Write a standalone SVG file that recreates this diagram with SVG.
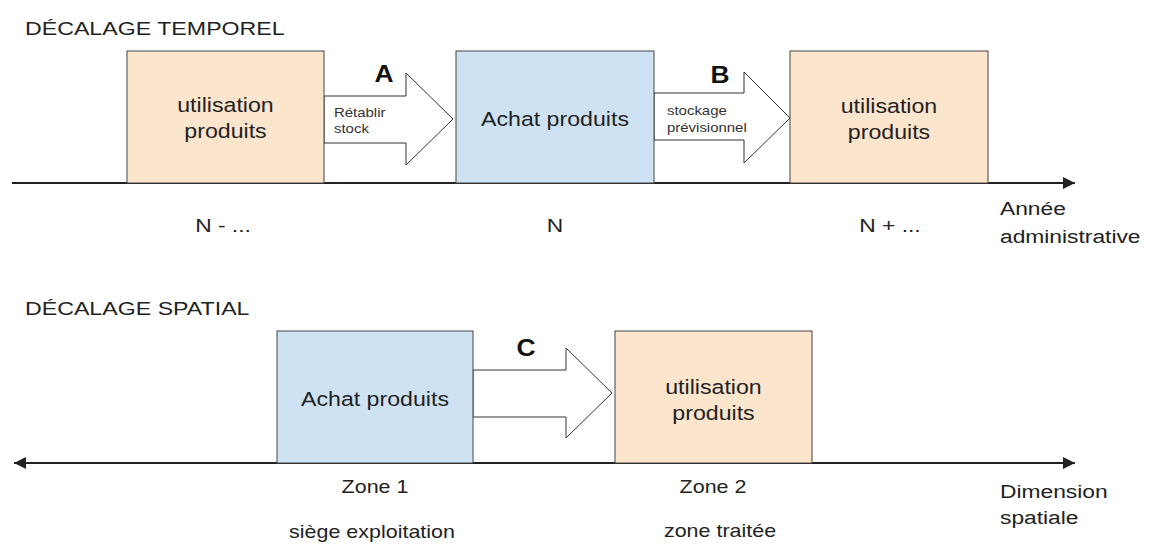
<svg xmlns="http://www.w3.org/2000/svg" width="1151" height="550" viewBox="0 0 1151 550">
<style>
  text { font-family: "Liberation Sans", Arial, sans-serif; fill: #222; }
  .c { text-anchor: middle; }
  .sc { transform-box: fill-box; transform-origin: center; }
  .sl { transform-box: fill-box; transform-origin: left center; }
  .title { font-size: 19px; transform: scaleX(1.22); }
  .big { font-size: 20.5px; transform: scaleX(1.13); }
  .ax { font-size: 19px; transform: scaleX(1.2); }
  .zn { font-size: 19px; transform: scaleX(1.13); }
  .small { font-size: 13px; fill: #333; transform: scaleX(1.15); }
  .letter { font-size: 24px; font-weight: bold; fill: #111; transform: scaleX(1.1); }
  .orange { fill: #fce5cd; stroke: #444; stroke-width: 1; }
  .blue { fill: #cfe2f3; stroke: #444; stroke-width: 1; }
  .axis { stroke: #222; stroke-width: 2; fill: none; }
  .fat { fill: #fff; stroke: #333; stroke-width: 1; stroke-linejoin: miter; }
</style>
<defs>
  <marker id="ah" viewBox="0 0 10 10" refX="10" refY="5" markerWidth="8" markerHeight="6" markerUnits="strokeWidth" orient="auto-start-reverse">
    <path d="M0,0 L10,5 L0,10 Z" fill="#222"/>
  </marker>
</defs>

<!-- titles -->
<text class="title sl" x="25" y="35">DÉCALAGE TEMPOREL</text>
<text class="title sl" x="25" y="315">DÉCALAGE SPATIAL</text>

<!-- connectors -->
<g id="connectors">
  <line class="axis" x1="12" y1="183" x2="1075" y2="183" marker-end="url(#ah)"/>
  <line class="axis" x1="14" y1="463" x2="1075" y2="463" marker-start="url(#ah)" marker-end="url(#ah)"/>
  <g id="arrow-A">
    <polygon class="fat" points="324,96 406,96 406,73 453,119 406,165 406,143 324,143"/>
    <text class="letter c sc" x="384" y="82">A</text>
    <text class="small sl" x="334" y="117">Rétablir</text>
    <text class="small sl" x="334" y="133">stock</text>
  </g>
  <g id="arrow-B">
    <polygon class="fat" points="654,93 744,93 744,72 790,118 744,163 744,140 654,140"/>
    <text class="letter c sc" x="720" y="83">B</text>
    <text class="small sl" x="667" y="115">stockage</text>
    <text class="small sl" x="667" y="132">prévisionnel</text>
  </g>
  <g id="arrow-C">
    <polygon class="fat" points="473,370 566,370 566,348 612,393 566,438 566,417 473,417"/>
    <text class="letter c sc" x="526" y="356">C</text>
  </g>
</g>

<!-- top nodes -->
<g id="t-utilisation-1">
  <rect class="orange" x="127" y="51" width="197" height="132"/>
  <text class="big c sc" x="225.5" y="112">utilisation</text>
  <text class="big c sc" x="225.5" y="138">produits</text>
</g>
<g id="t-achat">
  <rect class="blue" x="456" y="51" width="198" height="132"/>
  <text class="big c sc" x="555" y="126">Achat produits</text>
</g>
<g id="t-utilisation-2">
  <rect class="orange" x="790" y="51" width="198" height="132"/>
  <text class="big c sc" x="889" y="113">utilisation</text>
  <text class="big c sc" x="889" y="139">produits</text>
</g>

<!-- top axis labels -->
<text class="ax c sc" x="223" y="232">N - ...</text>
<text class="ax c sc" x="555" y="232">N</text>
<text class="ax c sc" x="890" y="232">N + ...</text>
<text class="ax sl" x="1000" y="215">Année</text>
<text class="ax sl" x="1000" y="243">administrative</text>

<!-- bottom nodes -->
<g id="s-achat">
  <rect class="blue" x="277" y="331" width="196" height="132"/>
  <text class="big c sc" x="375" y="406">Achat produits</text>
</g>
<g id="s-utilisation">
  <rect class="orange" x="615" y="331" width="197" height="132"/>
  <text class="big c sc" x="713.5" y="394">utilisation</text>
  <text class="big c sc" x="713.5" y="420">produits</text>
</g>

<!-- bottom labels -->
<text class="zn c sc" x="375" y="493">Zone 1</text>
<text class="zn c sc" x="372" y="538">siège exploitation</text>
<text class="zn c sc" x="713" y="493">Zone 2</text>
<text class="zn c sc" x="720" y="537">zone traitée</text>
<text class="ax sl" x="1000" y="498">Dimension</text>
<text class="ax sl" x="1000" y="524">spatiale</text>
</svg>
